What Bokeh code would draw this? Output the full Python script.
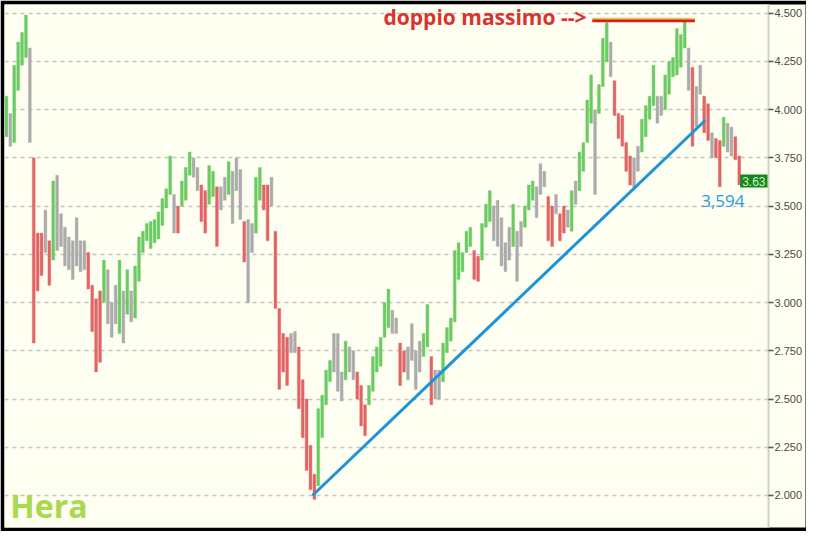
from bokeh.plotting import figure
from bokeh.models import Range1d, FixedTicker, PrintfTickFormatter, Label, ColumnDataSource
from bokeh.embed import file_html
from bokeh.resources import INLINE

# ---- data ----
highs = [
    4.07, 3.98, 4.23, 4.35, 4.40, 4.49, 4.32, 3.75, 3.36, 3.36,
    3.48, 3.32, 3.63, 3.66, 3.46, 3.39, 3.34, 3.32, 3.44, 3.32,
    3.32, 3.26, 3.09, 3.02, 3.06, 3.22, 3.17, 3.00, 3.09, 3.22,
    3.06, 3.17, 3.06, 3.19, 3.34, 3.37, 3.41, 3.42, 3.43, 3.47,
    3.54, 3.59, 3.76, 3.56, 3.50, 3.63, 3.70, 3.78, 3.75, 3.70,
    3.61, 3.58, 3.71, 3.68, 3.60, 3.60, 3.65, 3.73, 3.68, 3.75,
    3.69, 3.42, 3.43, 3.41, 3.65, 3.70, 3.61, 3.61, 3.65, 3.37,
    2.97, 2.84, 2.82, 2.84, 2.85, 2.77, 2.60, 2.50, 2.26, 2.11,
    2.45, 2.52, 2.65, 2.70, 2.84, 2.84, 2.64, 2.80, 2.77, 2.75,
    2.64, 2.57, 2.47, 2.57, 2.72, 2.77, 2.82, 3.00, 3.07, 2.96,
    2.92, 2.79, 2.75, 2.77, 2.89, 2.75, 2.80, 2.84, 2.99, 2.72,
    2.65, 2.65, 2.79, 2.87, 2.92, 3.27, 3.31, 3.26, 3.37, 3.39,
    3.27, 3.24, 3.41, 3.51, 3.58, 3.50, 3.53, 3.44, 3.31, 3.39,
    3.51, 3.37, 3.42, 3.50, 3.61, 3.63, 3.60, 3.72, 3.68, 3.55,
    3.50, 3.56, 3.46, 3.50, 3.48, 3.58, 3.63, 3.78, 3.83, 4.05,
    4.18, 4.00, 4.13, 4.37, 4.45, 4.35, 4.15, 3.98, 3.97, 3.83,
    3.76, 3.75, 3.81, 3.95, 4.02, 4.07, 4.23, 4.07, 4.07, 4.18,
    4.25, 4.27, 4.42, 4.39, 4.46, 4.32, 4.22, 4.12, 4.23, 4.07,
    4.03, 3.88, 3.85, 3.84, 3.96, 3.93, 3.91, 3.86, 3.76,
]
lows = [
    3.86, 3.81, 3.83, 4.10, 4.23, 4.27, 3.83, 2.79, 3.06, 3.14,
    3.26, 3.09, 3.22, 3.27, 3.29, 3.19, 3.17, 3.12, 3.19, 3.16,
    3.17, 3.07, 2.85, 2.64, 2.69, 3.00, 2.89, 2.82, 2.89, 2.84,
    2.79, 2.94, 2.90, 2.92, 3.11, 3.26, 3.32, 3.28, 3.31, 3.33,
    3.40, 3.49, 3.56, 3.36, 3.36, 3.50, 3.53, 3.66, 3.65, 3.58,
    3.42, 3.36, 3.51, 3.55, 3.29, 3.48, 3.53, 3.56, 3.41, 3.58,
    3.43, 3.21, 3.00, 3.26, 3.36, 3.53, 3.48, 3.32, 3.50, 2.97,
    2.55, 2.64, 2.57, 2.74, 2.74, 2.45, 2.30, 2.13, 2.03, 1.98,
    2.05, 2.30, 2.47, 2.59, 2.64, 2.54, 2.49, 2.60, 2.64, 2.60,
    2.50, 2.36, 2.31, 2.47, 2.54, 2.64, 2.67, 2.82, 2.87, 2.84,
    2.84, 2.57, 2.64, 2.60, 2.70, 2.55, 2.64, 2.72, 2.77, 2.47,
    2.50, 2.50, 2.59, 2.74, 2.80, 2.90, 3.12, 3.16, 3.26, 3.29,
    3.12, 3.11, 3.22, 3.39, 3.42, 3.32, 3.29, 3.19, 3.16, 3.22,
    3.29, 3.11, 3.29, 3.39, 3.48, 3.53, 3.44, 3.56, 3.60, 3.32,
    3.29, 3.46, 3.32, 3.36, 3.39, 3.37, 3.51, 3.58, 3.68, 3.83,
    3.93, 3.56, 3.98, 4.12, 4.25, 4.17, 3.97, 3.85, 3.81, 3.68,
    3.61, 3.60, 3.68, 3.78, 3.86, 3.95, 4.02, 3.93, 3.97, 4.00,
    4.08, 4.17, 4.18, 4.22, 4.32, 4.10, 3.81, 3.91, 4.08, 3.88,
    3.84, 3.75, 3.75, 3.60, 3.81, 3.78, 3.76, 3.74, 3.61,
]
# g = up (green), r = down (red), k = neutral (gray)
moves = [
    "g", "k", "g", "g", "g", "g", "k", "r", "r", "r",
    "k", "r", "g", "k", "k", "k", "k", "k", "k", "k",
    "k", "r", "r", "r", "r", "g", "k", "k", "k", "g",
    "k", "g", "k", "g", "g", "g", "g", "g", "g", "g",
    "g", "g", "g", "k", "r", "g", "g", "g", "k", "k",
    "r", "r", "g", "g", "r", "k", "k", "g", "k", "k",
    "k", "r", "k", "k", "g", "g", "r", "r", "k", "r",
    "r", "r", "r", "k", "k", "r", "r", "r", "r", "r",
    "g", "g", "g", "g", "k", "k", "k", "g", "k", "k",
    "r", "r", "r", "g", "g", "g", "g", "g", "g", "k",
    "k", "r", "r", "k", "k", "k", "k", "g", "g", "r",
    "k", "k", "g", "g", "g", "g", "g", "g", "g", "g",
    "r", "r", "g", "g", "g", "k", "k", "k", "k", "k",
    "g", "k", "k", "g", "g", "g", "k", "k", "k", "r",
    "r", "k", "r", "r", "k", "g", "k", "g", "g", "g",
    "g", "k", "g", "g", "g", "k", "r", "r", "r", "r",
    "r", "k", "k", "g", "g", "g", "g", "k", "k", "g",
    "g", "g", "g", "g", "g", "k", "r", "k", "k", "r",
    "r", "k", "r", "r", "g", "k", "k", "r", "r",
]
last_close = 3.63
support_low = 3.594
y_ticks = [2.00, 2.25, 2.50, 2.75, 3.00, 3.25, 3.50, 3.75, 4.00, 4.25, 4.50]
trend_x = [78.5, 179.3]          # trendline (bar index)
trend_y = [2.00, 3.945]
top_x = [150.3, 176.6]           # double-top resistance
top_y = 4.46

Y_MIN, Y_MAX = 1.834, 4.545
X_MIN, X_MAX = -0.5, 195.5

palette = {"g": "#6acb62", "r": "#e26464", "k": "#ababab"}
src = ColumnDataSource(dict(
    x=list(range(len(highs))), high=highs, low=lows,
    color=[palette[m] for m in moves],
))

CREAM = "#fefef1"
p = figure(width=806, height=531, output_backend="svg", toolbar_location=None,
           x_range=Range1d(X_MIN, X_MAX), y_range=Range1d(Y_MIN, Y_MAX),
           x_axis_location=None, y_axis_location="right",
           min_border_left=4, min_border_top=4, min_border_bottom=4, min_border_right=38,
           background_fill_color=CREAM, border_fill_color="#000000")
p.outline_line_color = None
p.xgrid.visible = False
p.ygrid.grid_line_color = "#c4c4c4"
p.ygrid.grid_line_dash = "4 4"
p.ygrid.grid_line_width = 1.3

ax = p.yaxis[0]
ax.ticker = FixedTicker(ticks=y_ticks)
ax.formatter = PrintfTickFormatter(format="%.3f")
if "background_fill_color" in ax.properties():
    ax.background_fill_color = CREAM
ax.axis_line_color = "#cfcfcf"
ax.axis_line_width = 2
ax.major_tick_out = 5
ax.major_tick_in = 0
ax.major_tick_line_color = "#555555"
ax.major_tick_line_width = 1.5
ax.minor_tick_line_color = None
ax.major_label_standoff = 1
ax.major_label_text_font = "Liberation Sans"
ax.major_label_text_font_size = "11px"
ax.major_label_text_color = "#4a4a4a"

p.vbar(x="x", top="high", bottom="low", width=0.72, fill_color="color",
       line_color="color", line_width=0.4, source=src)

# resistance (double top)
p.line(top_x, [top_y + 0.006] * 2, line_color="#f1c35a", line_width=4)
p.line(top_x, [top_y] * 2, line_color="#d0221a", line_width=2.6)
# rising trendline
p.line(trend_x, trend_y, line_color="#1e94d8", line_width=3)

p.add_layout(Label(x=top_x[0] - 1.5, y=top_y + 0.02, text="doppio massimo -->",
                   text_align="right", text_baseline="middle",
                   text_font="Open Sans", text_font_size="21px",
                   text_font_style="bold", text_color="#d8332f"))
p.add_layout(Label(x=183.8, y=support_low - 0.065, text="3,594",
                   text_align="center", text_baseline="middle",
                   text_font="Open Sans", text_font_size="17px",
                   text_color="#2a9be0"))
p.add_layout(Label(x=X_MIN + 1.5, y=Y_MIN, y_offset=1, text="Hera",
                   text_align="left", text_baseline="bottom",
                   text_font="Open Sans", text_font_size="32px",
                   text_font_style="bold", text_color="#a8d94e"))
p.add_layout(Label(x=X_MAX, y=last_close, x_offset=-1, text="3.63",
                   text_align="right", text_baseline="middle",
                   text_font="Liberation Sans", text_font_size="12px",
                   text_color="#c9f2c2", background_fill_color="#17861c",
                   padding=2, level="overlay"))

open("out.html", "w").write(file_html(p, INLINE))
